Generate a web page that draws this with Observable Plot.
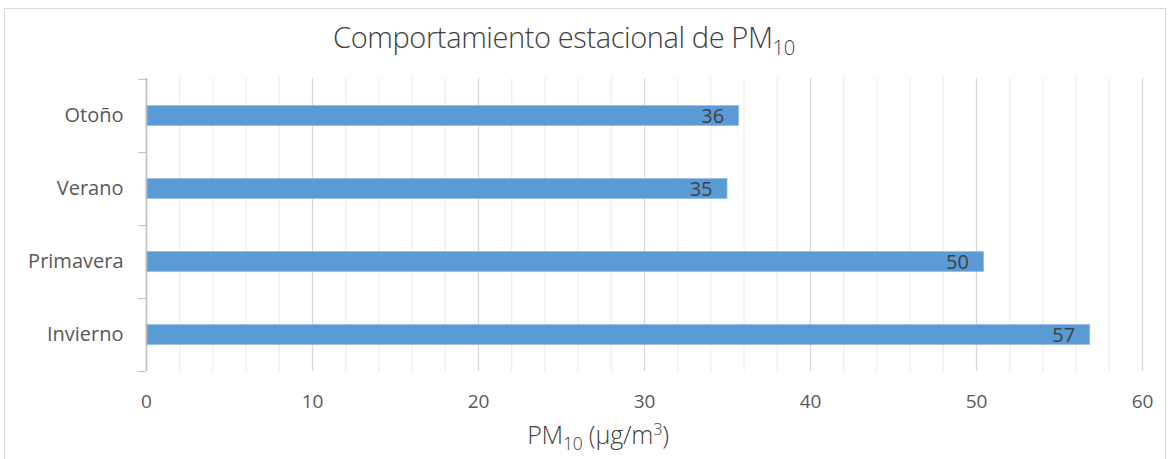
<!DOCTYPE html>
<html>
<head>
<meta charset="utf-8">
<script src="https://cdn.jsdelivr.net/npm/d3@7"></script>
<script src="https://cdn.jsdelivr.net/npm/@observablehq/plot@0.6"></script>
<style>
  html, body { margin: 0; padding: 0; background: #fff; }
  #wrap { position: relative; width: 1170px; height: 459px; overflow: hidden; font-family: "Open Sans", sans-serif; }
  #frame { position: absolute; left: 4px; top: 8px; width: 1162px; height: 470px; border: 1px solid #d9d9d9; box-sizing: border-box; }
  #title { position: absolute; left: 0; width: 1128px; top: 17px; text-align: center; font-size: 29px; font-weight: 300; color: #404040; letter-spacing: -0.4px; }
  #xlabel { position: absolute; left: 0; width: 1196px; top: 417px; text-align: center; font-size: 25px; font-weight: 300; color: #404040; letter-spacing: -0.2px; }
  sub { font-size: 70%; vertical-align: -0.35em; line-height: 0; }
  sup { font-size: 65%; vertical-align: 0.55em; line-height: 0; }
  #chart { position: absolute; left: 0; top: 0; }
</style>
</head>
<body>
<div id="wrap">
  <div id="frame"></div>
  <div id="chart"></div>
  <div id="title">Comportamiento estacional de PM<sub>10</sub></div>
  <div id="xlabel">PM<sub>10</sub> (µg/m<sup>3</sup>)</div>
</div>
<script>
const seasons = ["Otoño", "Verano", "Primavera", "Invierno"];
const values = [35.7, 35.0, 50.45, 56.85];
const valueLabels = ["36", "35", "50", "57"];
const xTicks = [0, 10, 20, 30, 40, 50, 60];
const minorTicks = d3.range(0, 61, 2).filter(v => v % 10 !== 0);

const data = seasons.map((s, i) => ({season: s, value: values[i], label: valueLabels[i]}));

const width = 1170, height = 459;
const marginTop = 78, marginBottom = 88, marginLeft = 146, marginRight = 28;
const band = (height - marginTop - marginBottom) / seasons.length;
const barH = 20;

const chart = Plot.plot({
  width, height, marginTop, marginBottom, marginLeft, marginRight,
  style: {fontFamily: "Open Sans, sans-serif", background: "transparent"},
  x: {domain: [0, 60], label: null},
  y: {domain: seasons, paddingInner: 0, paddingOuter: 0, label: null},
  marks: [
    Plot.ruleX(minorTicks, {stroke: "#efefef", strokeWidth: 1.3}),
    Plot.ruleX(xTicks, {stroke: "#d9d9d9", strokeWidth: 1.3}),
    Plot.barX(data, {y: "season", x: "value", fill: "#5b9bd5", stroke: "#8fb9e3", strokeWidth: 0.8,
      insetTop: (band - barH) / 2, insetBottom: (band - barH) / 2}),
    Plot.text(data, {y: "season", x: "value", text: "label", textAnchor: "end", dx: -15, dy: 1,
      fill: "#404040", fontSize: 20}),
    Plot.ruleX([0], {stroke: "#bfbfbf", strokeWidth: 1.5}),
    Plot.axisY({tickSize: 8, tickFormat: () => "", stroke: "#bfbfbf", dy: band / 2}),
    Plot.axisY({ticks: [seasons[0]], tickSize: 8, tickFormat: () => "", stroke: "#bfbfbf", dy: -band / 2}),
    Plot.axisY({tickSize: 0, tickPadding: 23, fill: "#595959", fontSize: 20}),
    Plot.axisX({ticks: xTicks, tickSize: 0, tickPadding: 23, fill: "#595959", fontSize: 19, label: null})
  ]
});
document.getElementById("chart").appendChild(chart);
</script>
</body>
</html>
